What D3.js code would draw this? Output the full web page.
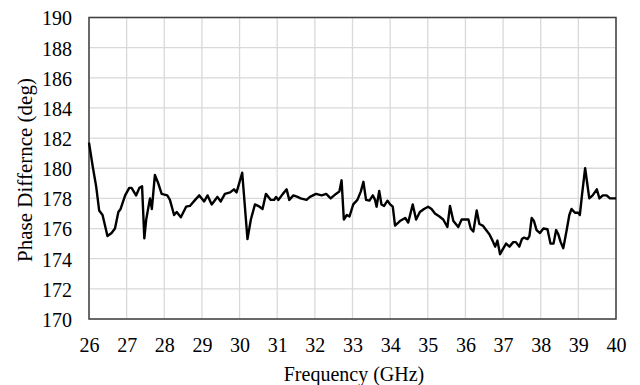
<!DOCTYPE html>
<html>
<head>
<meta charset="utf-8">
<script src="https://cdn.jsdelivr.net/npm/d3@7"></script>
<style>
  html, body { margin: 0; padding: 0; background: #fff; }
</style>
</head>
<body>
<svg id="chart" width="640" height="385"></svg>
<script>
// Measured phase difference vs. frequency
const freqGHz = [
  26.00, 26.10, 26.19, 26.27, 26.36, 26.49, 26.60, 26.69, 26.78, 26.84, 26.96, 27.07, 27.13, 27.25, 27.34, 27.41,
  27.47, 27.52, 27.62, 27.67, 27.75, 27.84, 27.93, 28.08, 28.15, 28.26, 28.33, 28.44, 28.58, 28.68, 28.82, 28.93,
  29.06, 29.15, 29.26, 29.35, 29.41, 29.50, 29.61, 29.75, 29.85, 29.92, 30.07, 30.21, 30.30, 30.41, 30.53, 30.61,
  30.70, 30.83, 30.92, 30.97, 31.03, 31.15, 31.25, 31.32, 31.43, 31.54, 31.62, 31.78, 31.87, 32.03, 32.18, 32.30,
  32.42, 32.56, 32.65, 32.71, 32.77, 32.85, 32.92, 33.02, 33.13, 33.22, 33.29, 33.36, 33.45, 33.54, 33.60, 33.64,
  33.71, 33.77, 33.84, 33.93, 34.00, 34.07, 34.13, 34.26, 34.40, 34.48, 34.60, 34.69, 34.79, 34.90, 35.01, 35.10,
  35.19, 35.31, 35.41, 35.52, 35.59, 35.68, 35.81, 35.90, 35.99, 36.08, 36.14, 36.21, 36.30, 36.37, 36.46, 36.55,
  36.64, 36.72, 36.79, 36.85, 36.92, 37.01, 37.08, 37.17, 37.27, 37.34, 37.43, 37.50, 37.56, 37.65, 37.70, 37.76,
  37.82, 37.89, 37.98, 38.07, 38.18, 38.26, 38.34, 38.41, 38.47, 38.53, 38.60, 38.69, 38.76, 38.82, 38.91, 39.00,
  39.04, 39.10, 39.18, 39.29, 39.38, 39.49, 39.56, 39.65, 39.75, 39.84, 40.00
];
const phaseDeg = [
  181.7, 180.1, 178.8, 177.2, 176.9, 175.5, 175.7, 176.0, 177.1, 177.3, 178.2, 178.7, 178.7, 178.2, 178.7, 178.8,
  175.35, 176.6, 178.0, 177.3, 179.55, 179.0, 178.3, 178.2, 177.9, 176.9, 177.1, 176.75, 177.45, 177.5, 177.9, 178.2,
  177.8, 178.2, 177.6, 177.9, 178.1, 177.8, 178.3, 178.4, 178.6, 178.4, 179.7, 175.3, 176.6, 177.6, 177.45, 177.3,
  178.3, 177.9, 177.9, 178.1, 177.9, 178.3, 178.6, 177.9, 178.2, 178.1, 178.0, 177.9, 178.1, 178.3, 178.2, 178.3,
  178.0, 178.3, 178.45, 179.2, 176.6, 176.9, 176.8, 177.6, 177.9, 178.45, 179.1, 177.9, 177.85, 178.2, 177.9, 177.45,
  178.5, 177.6, 177.5, 177.85, 177.6, 177.45, 176.2, 176.5, 176.7, 176.4, 177.6, 176.6, 177.1, 177.3, 177.45, 177.3,
  177.0, 176.8, 176.6, 176.1, 177.5, 176.5, 176.1, 176.6, 176.6, 176.6, 176.0, 175.8, 177.2, 176.3, 176.2, 175.9,
  175.6, 175.2, 174.8, 175.2, 174.3, 174.7, 175.0, 174.8, 175.1, 175.1, 174.8, 175.3, 175.4, 175.3, 175.5, 176.7,
  176.5, 175.9, 175.7, 176.0, 175.95, 175.0, 175.0, 175.9, 175.6, 175.1, 174.7, 175.9, 176.9, 177.3, 177.05, 177.05,
  176.9, 178.3, 180.0, 178.0, 178.2, 178.6, 178.0, 178.2, 178.2, 178.0, 178.0
];
const xTicks = [26, 27, 28, 29, 30, 31, 32, 33, 34, 35, 36, 37, 38, 39, 40];
const yTicks = [170, 172, 174, 176, 178, 180, 182, 184, 186, 188, 190];

const serif = "'Liberation Serif', 'Times New Roman', Times, serif";
const svg = d3.select("#chart");
const plotLeft = 89, plotRight = 616, plotTop = 17.5, plotBottom = 319;

const x = d3.scaleLinear().domain([26, 40]).range([plotLeft, plotRight]);
const y = d3.scaleLinear().domain([170, 190]).range([plotBottom, plotTop]);

// gridlines
svg.append("g")
  .selectAll("line")
  .data(xTicks)
  .join("line")
  .attr("x1", d => x(d)).attr("x2", d => x(d))
  .attr("y1", plotTop).attr("y2", plotBottom)
  .attr("stroke", "#d9d9d9").attr("stroke-width", 1.3);

svg.append("g")
  .selectAll("line")
  .data(yTicks)
  .join("line")
  .attr("x1", plotLeft).attr("x2", plotRight)
  .attr("y1", d => y(d)).attr("y2", d => y(d))
  .attr("stroke", "#d9d9d9").attr("stroke-width", 1.3);

// axes (labels only; the frame is drawn separately)
const xAxis = d3.axisBottom(x).tickValues(xTicks).tickSize(0).tickPadding(19).tickFormat(d3.format("d"));
const gx = svg.append("g").attr("transform", `translate(0,${plotBottom})`).call(xAxis);
gx.select(".domain").remove();
gx.attr("font-family", null).attr("font-size", null);
gx.selectAll("text").style("font-family", serif).style("font-size", "20px").style("fill", "#000");

const yAxis = d3.axisLeft(y).tickValues(yTicks).tickSize(0).tickPadding(17).tickFormat(d3.format("d"));
const gy = svg.append("g").attr("transform", `translate(${plotLeft},0)`).call(yAxis);
gy.select(".domain").remove();
gy.attr("font-family", null).attr("font-size", null);
gy.selectAll("text").style("font-family", serif).style("font-size", "20px").style("fill", "#000")
  .attr("dy", "0.37em");

// plot frame
svg.append("rect")
  .attr("x", plotLeft).attr("y", plotTop)
  .attr("width", plotRight - plotLeft).attr("height", plotBottom - plotTop)
  .attr("fill", "none").attr("stroke", "#404040").attr("stroke-width", 1.5);

// data line
const pts = freqGHz.map((f, i) => [f, phaseDeg[i]]);
svg.append("path")
  .datum(pts)
  .attr("fill", "none")
  .attr("stroke", "#000")
  .attr("stroke-width", 2.4)
  .attr("stroke-linejoin", "round")
  .attr("d", d3.line().x(d => x(d[0])).y(d => y(d[1])));

// axis titles
svg.append("text")
  .attr("x", 354).attr("y", 381)
  .attr("text-anchor", "middle")
  .style("font-family", serif).style("font-size", "20px")
  .text("Frequency (GHz)");

svg.append("text")
  .attr("transform", "translate(32,170) rotate(-90)")
  .attr("text-anchor", "middle")
  .style("font-family", serif).style("font-size", "21px")
  .text("Phase Differnce (deg)");
</script>
</body>
</html>
